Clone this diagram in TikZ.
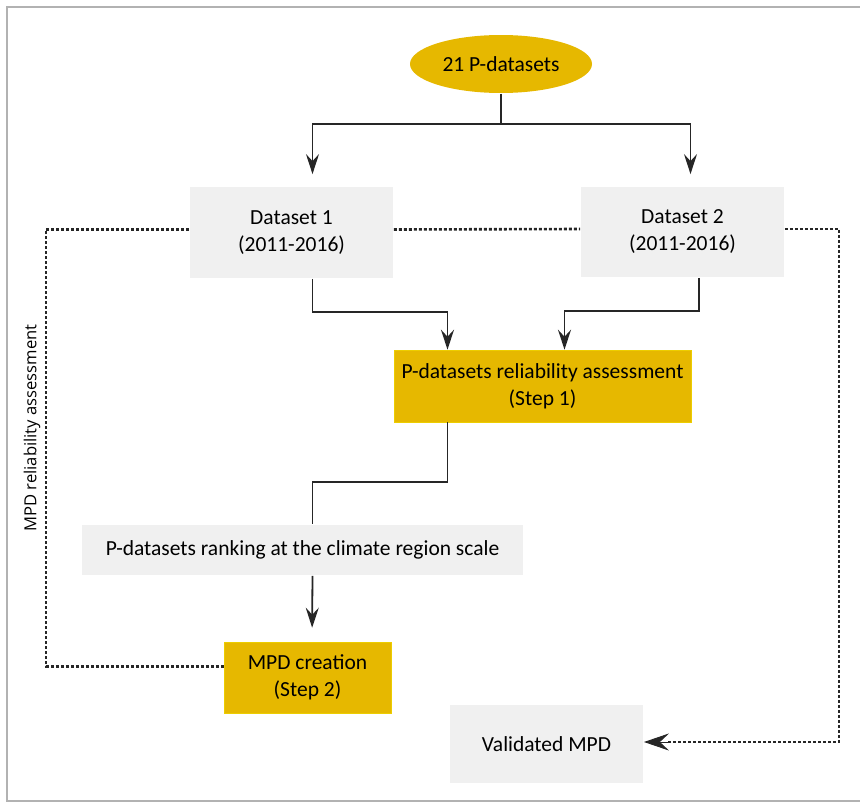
\documentclass[tikz,border=0pt]{standalone}
\usepackage{fontspec}
\setmainfont{Carlito}
\newfontfamily\labelfont{Open Sans}
\usetikzlibrary{shapes.geometric,arrows.meta}
\definecolor{gold}{HTML}{E6B800}
\definecolor{boxgray}{HTML}{F0F0F0}

\begin{document}
\begin{tikzpicture} [
    x=1pt, y=1pt,
    line width=1.8pt,
    font=\fontsize{21.5}{27}\selectfont,
  ]

  \tikzstyle{plain} = [
    rectangle,
    fill=boxgray,
    align=center,
    inner sep=0pt,
  ]
  \tikzstyle{stepbox} = [
    plain,
    fill=gold,
    draw=gold!70!yellow,
    line width=0.6pt,
  ]
  \tikzstyle{flow} = [
    draw=black!85,
    -{Stealth[length=20pt,width=13pt,inset=7pt]},
  ]
  \tikzstyle{dotline} = [
    draw=black!85,
    line width=2.6pt,
    dash pattern=on 3pt off 2pt,
  ]

  \useasboundingbox (0,0) rectangle (860,-803);
  \draw[black!30,line width=1.5pt] (860,-7) -- (7,-7) -- (7,-801) -- (860,-801);

  \node[ellipse,fill=gold,minimum width=182,minimum height=58] (src) at (501,-64) {21 P-datasets};
  \node[plain,minimum width=203,minimum height=91] (ds1) at (291.5,-232.5) {Dataset 1\\(2011-2016)};
  \node[plain,minimum width=203,minimum height=90] (ds2) at (682.5,-232) {Dataset 2\\(2011-2016)};
  \node[stepbox,minimum width=297,minimum height=72] (step1) at (542.5,-386) {P-datasets reliability assessment\\(Step 1)};
  \node[plain,minimum width=441,minimum height=50] (rank) at (302.5,-550) {P-datasets ranking at the climate region scale};
  \node[stepbox,minimum width=167,minimum height=71] (step2) at (307.5,-677.5) {MPD creation\\(Step 2)};
  \node[plain,minimum width=193,minimum height=78] (valid) at (546.5,-744) {Validated MPD};

  \coordinate (lft) at (46,-450);
  \coordinate (rgt) at (839,-450);
  \node[rotate=90,font=\labelfont\fontsize{16.6}{18}\selectfont] (lbl) at (32,-428) {MPD reliability assessment};

  \draw[flow,shorten >=12pt] (src.south) -- ++(0,-30) -| ([xshift=21]ds1.north);
  \draw[flow,shorten >=12pt] (src.south) -- ++(0,-30) -| ([xshift=8]ds2.north);
  \draw[flow] ([xshift=21]ds1.south) -- ++(0,-33) -| ([xshift=-95]step1.north);
  \draw[flow] ([xshift=16.5]ds2.south) -- ++(0,-33) -| ([xshift=22]step1.north);
  \draw[draw=black!85] ([xshift=-95]step1.south) -- ++(0,-60) -| ([xshift=10]rank.north);
  \draw[flow,shorten >=14pt] ([xshift=10]rank.south) -- ([xshift=4.5]step2.north);

  \draw[dotline] ([yshift=3]ds1.west) -| (lft) |- ([yshift=11]step2.west);
  \draw[dotline] ([yshift=3]ds1.east) -- ([yshift=3]ds2.west);
  \draw[dotline] ([yshift=3]ds2.east) -| (rgt) |- ([xshift=24,yshift=2]valid.east);
  \draw[-{Stealth[length=25pt,width=17pt,inset=9pt]},black!85,line width=1pt] ([xshift=26,yshift=2]valid.east) -- ([yshift=2]valid.east);

\end{tikzpicture}
\end{document}
